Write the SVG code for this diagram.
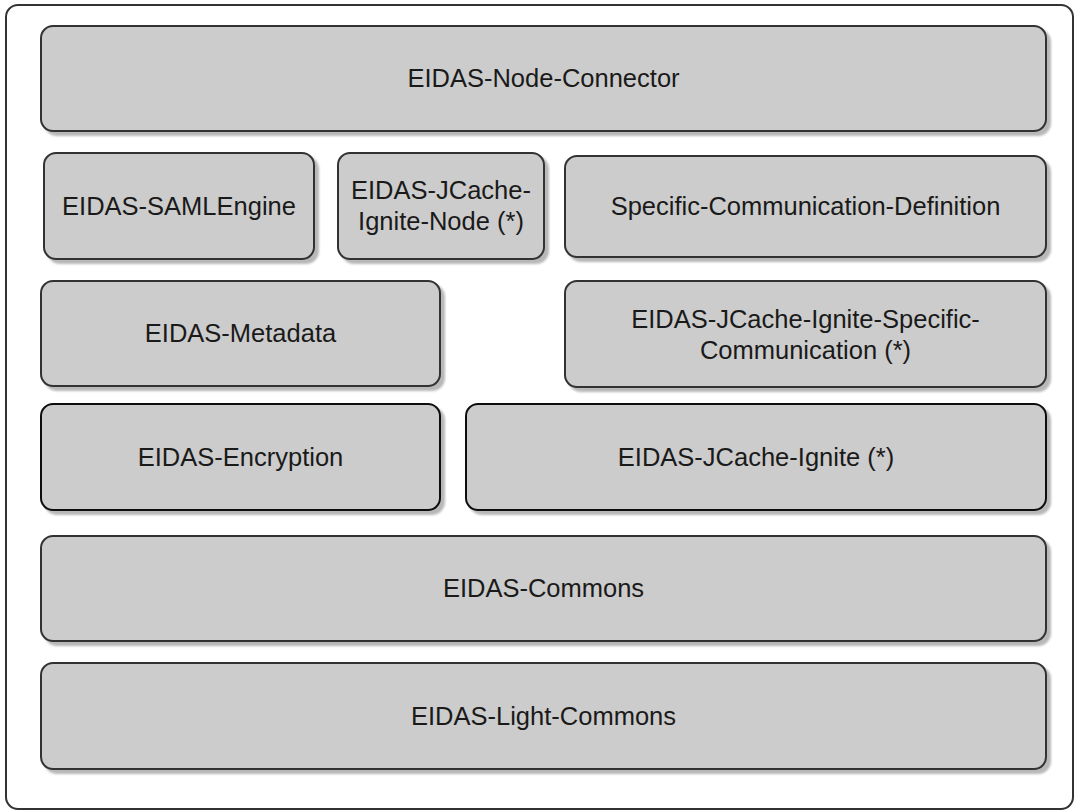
<svg xmlns="http://www.w3.org/2000/svg" width="1077" height="812" viewBox="0 0 1077 812">
<defs>
<filter id="sh" x="-5%" y="-5%" width="115%" height="120%">
<feGaussianBlur in="SourceAlpha" stdDeviation="1"/>
<feOffset dx="4" dy="4" result="o"/>
<feFlood flood-color="#000" flood-opacity="0.28"/>
<feComposite in2="o" operator="in"/>
<feMerge><feMergeNode/><feMergeNode in="SourceGraphic"/></feMerge>
</filter>
<style>
.box{fill:#cccccc;stroke:#333333;stroke-width:2;filter:url(#sh)}
.dark{stroke:#111111}
.lbl{font-family:"Liberation Sans",Arial,sans-serif;font-size:25.5px;fill:#1a1a1a;text-anchor:middle}
</style>
</defs>
<rect x="6" y="5" width="1067" height="804" rx="12" fill="#ffffff" stroke="#333333" stroke-width="2"/>
<g id="node-connector"><rect class="box" x="41" y="26" width="1005" height="105" rx="12"/><text class="lbl" x="543.5" y="87">EIDAS-Node-Connector</text></g>
<g id="samlengine"><rect class="box" x="44" y="153" width="270" height="106" rx="12"/><text class="lbl" x="179" y="215">EIDAS-SAMLEngine</text></g>
<g id="jcache-ignite-node"><rect class="box" x="338" y="153" width="206" height="106" rx="12"/><text class="lbl" x="441" y="199">EIDAS-JCache-</text><text class="lbl" x="441" y="230">Ignite-Node (*)</text></g>
<g id="specific-communication-definition"><rect class="box" x="565" y="156" width="481" height="101" rx="12"/><text class="lbl" x="805.5" y="215">Specific-Communication-Definition</text></g>
<g id="metadata"><rect class="box" x="41" y="281" width="399" height="105" rx="12"/><text class="lbl" x="240.5" y="342">EIDAS-Metadata</text></g>
<g id="jcache-ignite-specific-communication"><rect class="box" x="565" y="281" width="481" height="106" rx="12"/><text class="lbl" x="805.5" y="328">EIDAS-JCache-Ignite-Specific-</text><text class="lbl" x="805.5" y="359">Communication (*)</text></g>
<g id="encryption"><rect class="box dark" x="41" y="404" width="399" height="106" rx="12"/><text class="lbl" x="240.5" y="466">EIDAS-Encryption</text></g>
<g id="jcache-ignite"><rect class="box dark" x="466" y="404" width="580" height="106" rx="12"/><text class="lbl" x="756" y="466">EIDAS-JCache-Ignite (*)</text></g>
<g id="commons"><rect class="box" x="41" y="536" width="1005" height="105" rx="12"/><text class="lbl" x="543.5" y="597">EIDAS-Commons</text></g>
<g id="light-commons"><rect class="box" x="41" y="663" width="1005" height="106" rx="12"/><text class="lbl" x="543.5" y="725">EIDAS-Light-Commons</text></g>
<g id="connectors"/>
</svg>
